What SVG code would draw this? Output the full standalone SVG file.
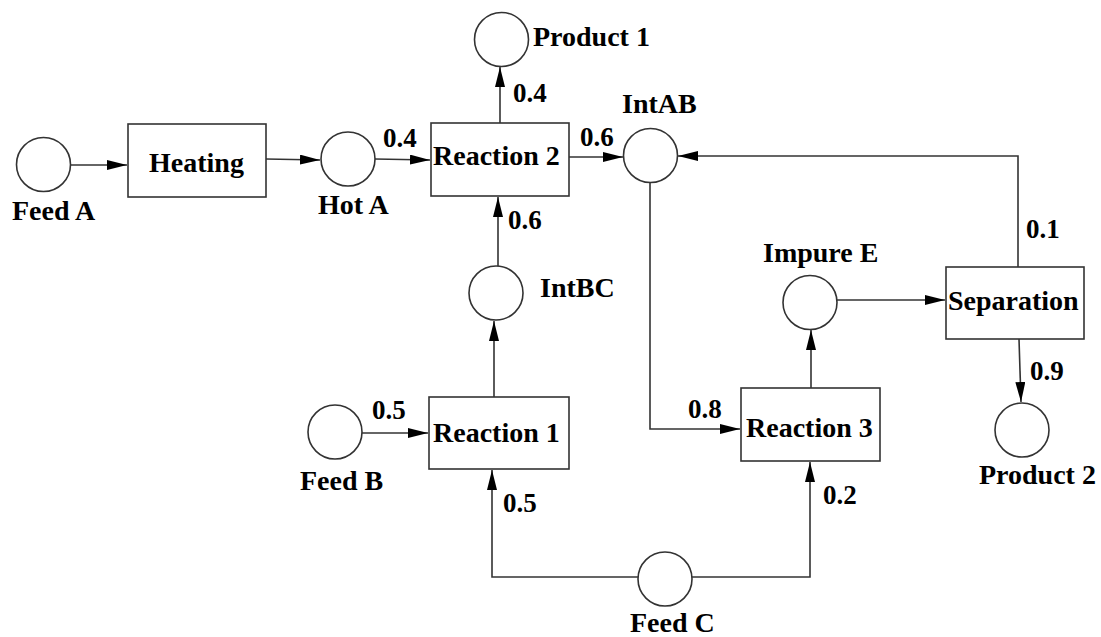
<svg xmlns="http://www.w3.org/2000/svg" width="1101" height="637" viewBox="0 0 1101 637">
<style>
.n{fill:#fff;stroke:#333;stroke-width:1.6}
.c{fill:none;stroke:#333;stroke-width:1.6}
.t,.v{font-family:'Liberation Serif','Tinos','Times New Roman','DejaVu Serif',serif;font-weight:700;fill:#000}
.t{font-size:28px}
.v{font-size:27px}
</style>
<defs>
<marker id="a" markerUnits="userSpaceOnUse" markerWidth="21" markerHeight="10" refX="20" refY="5" orient="auto">
<path d="M0,0 L20,5 L0,10 z" fill="#000"/>
</marker>
</defs>
<rect width="1101" height="637" fill="#fff"/>
<g id="connectors">
<path class="c" d="M71,165 L127,165" marker-end="url(#a)"/>
<path class="c" d="M266,159 L320,160" marker-end="url(#a)"/>
<path class="c" d="M375,159 L430,160" marker-end="url(#a)"/>
<path class="c" d="M500,123 L500,67" marker-end="url(#a)"/>
<path class="c" d="M569,157 L623,157" marker-end="url(#a)"/>
<path class="c" d="M1018,267 V156 H678" marker-end="url(#a)"/>
<path class="c" d="M650,182 V429 H740" marker-end="url(#a)"/>
<path class="c" d="M811,388 V330" marker-end="url(#a)"/>
<path class="c" d="M837,300 H945" marker-end="url(#a)"/>
<path class="c" d="M1019,339 L1021,402" marker-end="url(#a)"/>
<path class="c" d="M362,433 H428" marker-end="url(#a)"/>
<path class="c" d="M494,397 V321" marker-end="url(#a)"/>
<path class="c" d="M498,266 V197" marker-end="url(#a)"/>
<path class="c" d="M638,577 H492 V470" marker-end="url(#a)"/>
<path class="c" d="M692,577 H810 V462" marker-end="url(#a)"/>
</g>
<g class="v">
<text x="383" y="147">0.4</text>
<text x="513" y="102">0.4</text>
<text x="580" y="146">0.6</text>
<text x="508" y="229">0.6</text>
<text x="1026" y="238">0.1</text>
<text x="372" y="419">0.5</text>
<text x="688" y="418">0.8</text>
<text x="1030" y="380">0.9</text>
<text x="503" y="512">0.5</text>
<text x="823" y="504">0.2</text>
</g>
<g id="feedA"><circle class="n" cx="43.5" cy="164.5" r="27"/><text class="t" x="12" y="220">Feed A</text></g>
<g id="heating"><rect class="n" x="128" y="124" width="138" height="73"/><text class="t" x="149" y="172">Heating</text></g>
<g id="hotA"><circle class="n" cx="348" cy="159" r="27"/><text class="t" x="318" y="214">Hot A</text></g>
<g id="reaction2"><rect class="n" x="431" y="123" width="138" height="73"/><text class="t" x="433" y="165">Reaction 2</text></g>
<g id="product1"><circle class="n" cx="501.5" cy="39.5" r="27"/><text class="t" x="533" y="46">Product 1</text></g>
<g id="intAB"><circle class="n" cx="650.5" cy="155.5" r="27"/><text class="t" x="622" y="113">IntAB</text></g>
<g id="intBC"><circle class="n" cx="496" cy="293" r="27"/><text class="t" x="540" y="297">IntBC</text></g>
<g id="impureE"><circle class="n" cx="810" cy="302.5" r="27"/><text class="t" x="763" y="262">Impure E</text></g>
<g id="separation"><rect class="n" x="946" y="267" width="138" height="72"/><text class="t" x="948" y="310">Separation</text></g>
<g id="product2"><circle class="n" cx="1022" cy="430" r="27"/><text class="t" x="979" y="484">Product 2</text></g>
<g id="feedB"><circle class="n" cx="335" cy="432" r="27"/><text class="t" x="300" y="490">Feed B</text></g>
<g id="reaction1"><rect class="n" x="429" y="397" width="140" height="72"/><text class="t" x="433" y="442">Reaction 1</text></g>
<g id="reaction3"><rect class="n" x="741" y="388" width="139" height="73"/><text class="t" x="746" y="437">Reaction 3</text></g>
<g id="feedC"><circle class="n" cx="665" cy="579" r="27"/><text class="t" x="630" y="632">Feed C</text></g>
</svg>
